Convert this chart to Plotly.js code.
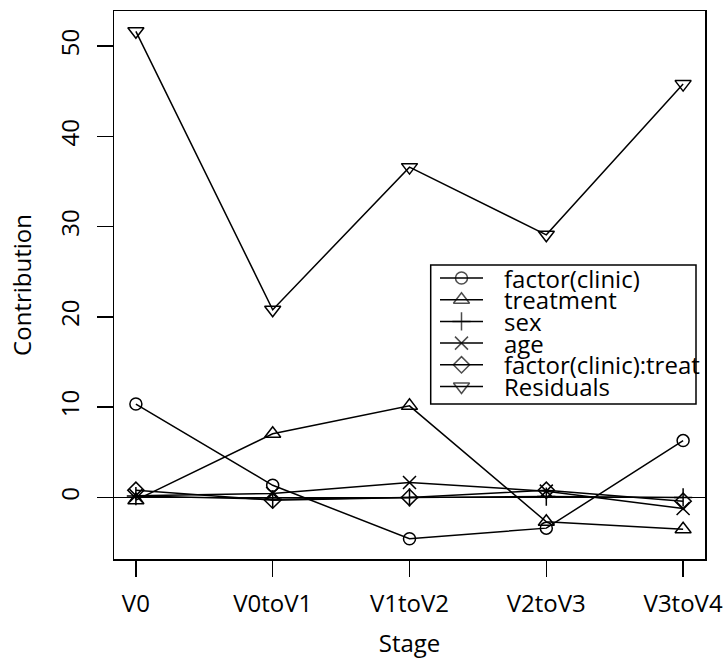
<!DOCTYPE html>
<html>
<head>
<meta charset="utf-8">
<script src="https://cdn.plot.ly/plotly-3.0.1.min.js"></script>
<style>html,body{margin:0;padding:0;background:#fff;}#chart{width:725px;height:659px;}</style>
</head>
<body>
<div id="chart"></div>
<script>
// ---- data ----
const stages = ['V0', 'V0toV1', 'V1toV2', 'V2toV3', 'V3toV4'];
const seriesNames = ['factor(clinic)', 'treatment', 'sex', 'age', 'factor(clinic):treat', 'Residuals'];
const clinic      = [10.35, 1.35, -4.57, -3.4, 6.3];
const treatment   = [-0.3, 7.06, 10.15, -2.7, -3.53];
const sex         = [0.15, -0.2, 0.0, 0.1, 0.0];
const age         = [0.2, 0.45, 1.65, 0.7, -1.23];
const clinicTreat = [0.8, -0.3, 0.0, 0.8, -0.42];
const residuals   = [51.65, 20.8, 36.6, 29.1, 45.8];
const yTicks = [0, 10, 20, 30, 40, 50];

// ---- styles ----
const seriesValues = [clinic, treatment, sex, age, clinicTreat, residuals];
const symbols = ['circle-open', 'triangle-up-open', 'cross-thin-open', 'x-thin-open', 'diamond-open', 'triangle-down-open'];
const sizes = [12, 14, 13, 13, 12.5, 14];
const FONT = 'Open Sans, Noto Sans, DejaVu Sans, sans-serif';
const LW = 1.5;

// layout geometry
const W = 725, H = 659;
const M = {l: 114, r: 20, t: 11, b: 100};

// R-style 4% axis extension computed from data
const allVals = [].concat(...seriesValues);
const yMin = Math.min(...allVals), yMax = Math.max(...allVals);
const ySpan = yMax - yMin;
const yRange = [yMin - 0.04 * ySpan, yMax + 0.04 * ySpan];
const xRange = [-0.04 * (stages.length - 1), (stages.length - 1) * 1.04];

const traces = seriesValues.map((vals, i) => ({
  type: 'scatter', mode: 'lines+markers',
  x: stages, y: vals, name: seriesNames[i],
  line: {color: '#000', width: LW},
  marker: {symbol: symbols[i], size: sizes[i], color: '#000', line: {color: '#000', width: LW}},
  showlegend: false, hoverinfo: 'skip'
}));

// ---- manual R-style legend drawn on a pixel overlay axis ----
const legLeft = 430.7, legRight = 696, legTop = 265, legBottom = 404;
const rowTop = 278, rowStep = 21.7;
const keyX0 = 440, keyX1 = 483, textX = 502;
const annotations = [];
seriesNames.forEach((name, i) => {
  const ry = rowTop + i * rowStep;
  traces.push({
    type: 'scatter', mode: 'lines+markers', xaxis: 'x2', yaxis: 'y2',
    x: [keyX0, (keyX0 + keyX1) / 2, keyX1], y: [ry, ry, ry],
    line: {color: '#000', width: LW},
    marker: {symbol: symbols[i], size: [0, sizes[i], 0], color: '#000', line: {color: '#000', width: LW}},
    showlegend: false, hoverinfo: 'skip'
  });
  annotations.push({
    xref: 'x2', yref: 'y2', x: textX, y: ry, text: name, showarrow: false,
    xanchor: 'left', yanchor: 'middle', font: {family: FONT, size: 24, color: '#000'}
  });
});

const axisCommon = {
  showgrid: false, showline: true, mirror: true, linecolor: '#000', linewidth: LW,
  ticks: 'outside', ticklen: 16, tickwidth: LW, tickcolor: '#000',
  tickfont: {family: FONT, size: 24, color: '#000'}
};

const layout = {
  width: W, height: H, margin: M,
  paper_bgcolor: '#fff', plot_bgcolor: '#fff',
  font: {family: FONT, size: 24, color: '#000'},
  showlegend: false,
  xaxis: Object.assign({}, axisCommon, {
    type: 'category', categoryarray: stages, range: xRange, zeroline: false,
    ticklabelstandoff: 7,
    title: {text: 'Stage', font: {family: FONT, size: 24, color: '#000'}, standoff: 20}
  }),
  yaxis: Object.assign({}, axisCommon, {
    range: yRange, tickmode: 'array', tickvals: yTicks, ticktext: yTicks.map(String),
    tickangle: -90, zeroline: true, zerolinecolor: '#000', zerolinewidth: LW,
    ticklabelstandoff: 8,
    title: {text: 'Contribution', font: {family: FONT, size: 24, color: '#000'}, standoff: 14}
  }),
  xaxis2: {overlaying: 'x', anchor: 'y2', range: [M.l, W - M.r], visible: false, fixedrange: true},
  yaxis2: {overlaying: 'y', anchor: 'x2', range: [H - M.b, M.t], visible: false, fixedrange: true},
  shapes: [{
    type: 'rect', xref: 'x2', yref: 'y2', x0: legLeft, x1: legRight, y0: legTop, y1: legBottom,
    line: {color: '#000', width: LW}, fillcolor: 'rgba(255,255,255,0)', layer: 'above'
  }],
  annotations: annotations
};

Plotly.newPlot('chart', traces, layout, {staticPlot: true, displayModeBar: false});
</script>
</body>
</html>
